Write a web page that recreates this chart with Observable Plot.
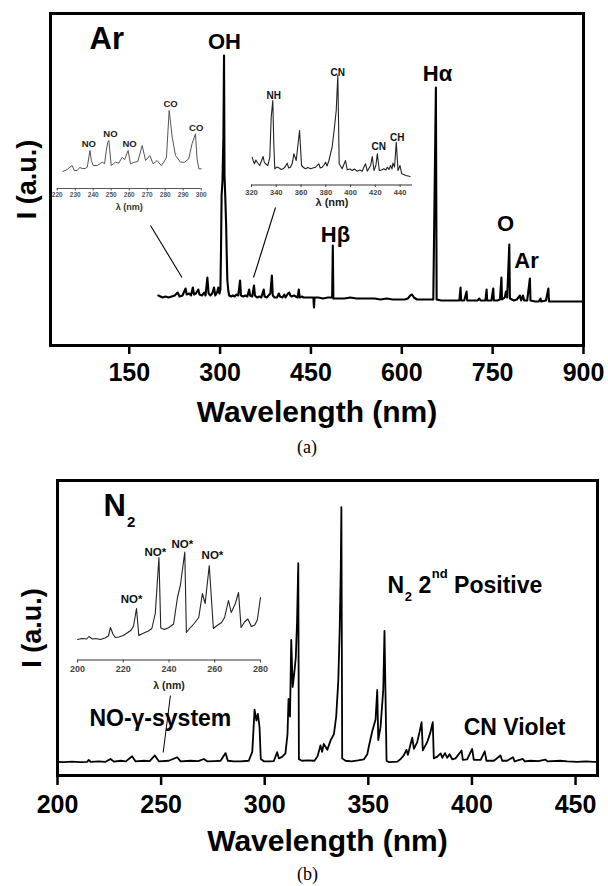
<!DOCTYPE html>
<html><head><meta charset="utf-8">
<script src="https://cdn.jsdelivr.net/npm/d3@7"></script>
<script src="https://cdn.jsdelivr.net/npm/@observablehq/plot@0.6"></script>
<style>
html,body{margin:0;padding:0;background:#fff;}
#root{position:relative;width:608px;height:886px;overflow:hidden;}
</style></head><body><div id="root"></div>
<script>
// ---------- tick values ----------
const ticksA = [150, 300, 450, 600, 750, 900];
const ticksB = [200, 250, 300, 350, 400, 450];
const ticksInsetAL = [220, 230, 240, 250, 260, 270, 280, 290, 300];
const ticksInsetAR = [320, 340, 360, 380, 400, 420, 440];
const ticksInsetB = [200, 220, 240, 260, 280];

// ---------- panel (a): Ar plasma, [wavelength nm, intensity a.u.] ----------
const specA = [[198,50],[205,48],[210,49],[215,48],[220,49],[225,50],[230,53],[233,49],[238,50],[243,57],[245,51],[249,52],[252,50],[255,58],[257,51],[260,52],[264,56],[266,51],[270,50],[274,53],[276,50],[279,68],[281,52],[284,50],[287,52],[290,58],[292,50],[295,53],[297,58],[299,52],[300.5,56],[301.5,95],[302.5,150],[304,165],[305.5,210],[306.5,290],[307.3,170],[308.5,150],[310,120],[311,90],[312,65],[313.5,55],[315,50],[318,49],[321,50],[324,49],[327,51],[330,50],[333,65],[334.5,50],[338,49],[342,50],[345,49],[348,56],[349.5,50],[353,49],[356,60],[357.5,50],[361,48],[365,49],[368,48],[372,56],[373.5,49],[377,48],[380,50],[383,52],[385.5,70],[387,50],[390,48],[394,48],[397,52],[399,49],[403,48],[406,51],[408,48],[412,52],[414,53],[416,50],[418,49],[422,50],[425,49],[428,48],[430,56],[431.5,48],[435,49],[438,48],[445,48],[450,48],[454,48],[455,38],[456,48],[462,48],[470,47],[478,48],[485,48],[486.1,100],[487,47],[495,47],[505,47],[515,48],[525,47],[535,47],[545,47],[555,47],[565,46],[575,47],[585,46],[595,46],[605,46],[610,47],[614,50],[617,51],[620,48],[625,46],[635,46],[645,46],[652,46],[656.3,258],[657.5,46],[665,45],[675,45],[685,45],[695,45],[697,58],[698,45],[703,45],[707,54],[708,45],[715,45],[725,45],[728,47],[730,45],[738,45],[740,56],[741,45],[748,45],[751,57],[752,45],[758,45],[762,46],[764.5,68],[765.5,46],[770,48],[772,54],[774,48],[777.5,101],[778.5,47],[785,45],[790,46],[795,50],[797,45],[800,50],[802,45],[807,45],[811.5,67],[812.5,45],[820,44],[826,44],[829,47],[830,44],[838,45],[842,57],[843,44],[850,44],[860,44],[870,44],[880,44],[890,44],[900,44]];

// inset (a) left: 220-300 nm
const insetAL = [[223.1,17],[225.5,19],[228.3,23],[229.5,18],[231.1,18],[232.5,21],[233.9,20],[235.5,20],[236.7,21.3],[238.2,38],[239,28],[240,23],[242.2,23],[244,25],[245,26.3],[246.3,24.7],[247.3,38],[248.1,46.3],[248.7,48],[250,23],[252.4,26.3],[254.2,25.3],[256.1,31.3],[257.4,28.7],[259.4,38],[260.7,24.7],[262.9,26.3],[264.8,27],[267.2,43],[269.1,28],[271.5,33],[273.3,24.7],[275.5,28],[277.8,23],[279.2,26.3],[280.7,31.3],[282.2,78],[283.9,51.3],[285.7,33],[288.5,26.3],[290.7,26.3],[293.1,29.7],[294.9,44.7],[296.8,54.7],[297.7,29.7],[298.7,19.7],[300,19.7]];

// inset (a) right: 320-450 nm
const insetAR = [[320.5,27.8],[321.5,24],[322.4,21.2],[323.5,25],[324.6,22.8],[325.6,21],[326.7,19.5],[328,24],[329.4,28.5],[330.3,23],[331.3,21.2],[333.2,19.5],[334.8,27.8],[335.9,67.8],[337.2,84.5],[338,41.5],[338.8,16.2],[340.5,18],[342,17.2],[344,15.5],[345.6,16.2],[347,18],[348.8,21.8],[350,17],[351.5,17.8],[353,22],[354.2,31.2],[356.1,24.5],[358.8,54.5],[360.4,19.5],[362,17.5],[363.6,16.2],[365.5,17.5],[367.7,16.2],[369.5,17],[371.7,17.8],[374.4,21.2],[375.5,17],[377.1,17.8],[378.5,20],[379.8,22.8],[381,19],[382.5,24.5],[385.1,37.8],[387,57.8],[388.4,74.5],[389.7,109.5],[390.8,21.2],[393.2,16.2],[395.9,24.5],[397.3,15.2],[399.5,16],[401.3,14.5],[403,16],[405.4,13.8],[407.5,15],[409.4,13.8],[410.8,18],[412.1,21.2],[413.5,13.8],[415,17],[416.2,19.5],[417.5,28.5],[418.9,14.5],[420.5,20],[421.6,31.2],[423.2,14.5],[425,15],[426.9,16.2],[428.5,15],[429.6,17.8],[431,15.5],[432.3,19.5],[433.5,16],[434.2,22],[435.5,18],[436.9,42.8],[438.3,14.5],[439.9,19.5],[441.3,11.2],[443,10.5],[444.5,9.5],[446.5,9],[448,8.5]];

// ---------- panel (b): N2 plasma ----------
const specB = [[200,4.6],[203,4.5],[207,4.7],[211,4.5],[214.3,4.6],[215.1,5.3],[216,4.6],[220,4.8],[223,4.6],[225.6,5.6],[227.2,4.7],[230.4,5.0],[233,4.8],[236,6.5],[237.6,4.8],[241.7,5.0],[244.5,4.9],[247,6.8],[248.9,4.8],[253.7,5.0],[257.8,6.2],[259.4,4.8],[264.2,5.0],[268,4.9],[270.6,5.6],[272.2,4.8],[276,4.9],[278.7,5.0],[281.1,7.6],[282.2,5.0],[285,4.8],[288.3,4.8],[292.3,5.0],[294,8],[295.1,22.3],[296,18.6],[296.7,20.9],[297.5,16.4],[298.1,5.6],[299.6,4.8],[302,4.8],[304.4,4.9],[306,7.9],[306.8,5.8],[308.4,6.3],[310,7.5],[311,14],[311.5,26],[312.2,20],[312.8,46],[313.5,30],[314.3,35],[315,40],[315.6,52],[316.2,72],[316.5,5.5],[318,5.0],[321,5.1],[324,5.0],[325.5,6.5],[326.9,10.2],[327.7,8],[328.5,10.7],[330.2,8.7],[331.8,11.9],[333.4,14],[334.5,20],[335.5,32],[336.2,50],[336.7,70],[337,91],[337.4,5.8],[339,5.0],[342,4.8],[345,5.1],[347.9,5.5],[349.5,7.2],[350.3,10],[351.9,15],[353.5,19],[354.3,29],[354.8,12],[355.9,16.5],[357.2,29],[357.8,49],[358.8,5.0],[360,4.5],[364,4.7],[365.5,5.5],[367.1,6.8],[368.4,8.7],[369.1,7],[370.4,10.7],[371.2,12.8],[372,9],[373.6,11.3],[374.9,15.3],[375.7,18.1],[376.3,8.5],[378.4,11.3],[380,14.7],[381.1,18.1],[381.6,5.8],[383.3,6.4],[384.9,7.5],[385.7,6],[387,7.6],[388.1,6],[389.2,7.2],[390.5,5.5],[392.1,5.8],[395,8.5],[395.6,5.3],[397.7,5.5],[400.1,9],[400.9,5.3],[404.2,5.3],[406.2,8.2],[407,5.0],[410.6,5.0],[413.8,6.8],[414.6,5.0],[417,5.0],[419.8,6.2],[420.6,4.8],[424.6,5.6],[425.5,4.8],[428.3,5.0],[432,4.9],[435.5,5.4],[436.5,4.8],[442.7,5.0],[446,4.8],[450.8,4.6],[455,4.8],[458.8,4.6],[460.6,4.6]];

// inset (b): 200-280 nm
const insetB = [[200,20.5],[202,21.5],[204,21],[205,23.5],[206.5,21],[208,21.5],[210,20.5],[212,22],[213.5,24],[214.4,32.5],[215.5,26],[216.5,22.5],[218,23],[220,24.5],[222,27.5],[223.5,30],[224.5,34],[225.8,51.5],[226.8,24.5],[228,26],[229.5,27.5],[231,29],[232.5,31.5],[234,46.5],[235.6,102.5],[236.4,32],[238,30.5],[240,32.5],[242,36],[243.7,62.5],[245,75],[246.9,108],[247.6,27.5],[249,31.5],[251,36.5],[253,42.5],[254.6,66.5],[255.8,56.5],[257.6,94.5],[259.4,31.5],[261,34.5],[263,37.5],[264.3,42.5],[266,59.5],[267.2,47.5],[269,56.5],[270.4,67.5],[271.5,32.5],[273,38],[274.5,41],[276,33.5],[277.5,35],[278.6,40],[279.6,56],[280,62.5]];

// ---------- annotations (data coordinates) ----------
const titleA = [{t:"Ar", x:84.4, y:297}];
const peakLabelsA = [{t:"OH", x:307.3, y:297},{t:"H\u03b1", x:659, y:265},{t:"H\u03b2", x:490.5, y:104},{t:"O", x:771.2, y:115},{t:"Ar", x:805.9, y:78}];
const leadersA = [{x1:185.1, y1:120, x2:237.1, y2:68},{x1:391.5, y1:138, x2:355.2, y2:68}];
const labelsAL = [{t:"NO", x:237.6, y:41.3},{t:"NO", x:249.6, y:51.3},{t:"NO", x:260.2, y:41.3},{t:"CO", x:283, y:81.3},{t:"CO", x:297.2, y:58}];
const labelsAR = [{t:"NH", x:338, y:86.2},{t:"CN", x:389.7, y:108.8},{t:"CN", x:422.8, y:35.5},{t:"CH", x:437.7, y:44.5}];

const titleB = [{t:"N", x:222.2, y:88.1}];
const titleBsub = [{t:"2", x:233.6, y:84.4}];
const bandLabelsB = [{t:"NO-\u03b3-system", x:215.4, y:16.9},{t:"CN Violet", x:396, y:13.6},{t:"N", x:359.3, y:61.7},{t:"2", x:374.2, y:61.7},{t:"Positive", x:391.4, y:61.7}];
const bandSubB = [{t:"2", x:367.6, y:59.3}];
const bandSupB = [{t:"nd", x:380.6, y:66.8}];
const leadersB = [{x1:254.5, y1:27.1, x2:251, y2:7.8}];
const labelsInsetB = [{t:"NO*", x:223.6, y:57.5},{t:"NO*", x:234, y:104.5},{t:"NO*", x:245.8, y:112},{t:"NO*", x:259, y:101.5}];

// ---------- rendering ----------
const SANS = '"Liberation Sans", Arial, Helvetica, sans-serif';
const SERIF = '"Liberation Serif", "Times New Roman", serif';
const root = document.getElementById("root");
function place(svg, left, top) {
  svg.style.position = "absolute";
  svg.style.left = left + "px";
  svg.style.top = top + "px";
  svg.style.background = "transparent";
  svg.style.overflow = "visible";
  svg.style.maxWidth = "none";
  root.appendChild(svg);
}
const baseStyle = {fontFamily: SANS, background: "transparent", overflow: "visible"};
const B = "bold";

// Panel (a)
const plotA = Plot.plot({
  width: 608, height: 470,
  marginLeft: 50, marginRight: 25, marginTop: 13, marginBottom: 125,
  x: {domain: [20, 900]},
  y: {domain: [0, 332], axis: null},
  style: baseStyle,
  marks: [
    Plot.line(specA, {strokeWidth: 2.1, stroke: "#000", strokeLinejoin: "round"}),
    Plot.link(leadersA, {x1: "x1", y1: "y1", x2: "x2", y2: "y2", strokeWidth: 1.1, stroke: "#000"}),
    Plot.text(titleA, {x: "x", y: "y", text: "t", textAnchor: "start", lineAnchor: "bottom", fontSize: 31, fontWeight: B}),
    Plot.text(peakLabelsA, {x: "x", y: "y", text: "t", textAnchor: "middle", lineAnchor: "bottom", fontSize: 22, fontWeight: B}),
    Plot.frame({strokeWidth: 3, stroke: "#000"}),
    Plot.axisX(ticksA, {tickSize: 9, tickPadding: 9, strokeWidth: 2.5, fontSize: 25, fontWeight: B, label: null}),
    Plot.text(["I (a.u.)"], {text: d => d, frameAnchor: "left", dx: -23, rotate: -90, textAnchor: "middle", lineAnchor: "middle", fontSize: 27, fontWeight: B}),
    Plot.text(["Wavelength (nm)"], {text: d => d, frameAnchor: "bottom", dy: 67, lineAnchor: "middle", fontSize: 30, fontWeight: B}),
    Plot.text(["(a)"], {text: d => d, frameAnchor: "bottom", dx: -10, dy: 102, lineAnchor: "middle", fontSize: 18, fontFamily: SERIF})
  ]
});
place(plotA, 0, 0);

// inset (a) left
const insAL = Plot.plot({
  width: 175, height: 120,
  marginLeft: 16.7, marginRight: 14.3, marginTop: 3, marginBottom: 27,
  x: {domain: [220, 300]},
  y: {domain: [0, 90], axis: null},
  style: baseStyle,
  marks: [
    Plot.ruleY([0], {stroke: "#555", strokeWidth: 1}),
    Plot.axisX(ticksInsetAL, {tickSize: 2.5, tickPadding: 1.5, fontSize: 6.5, fontWeight: B, color: "#555", label: null}),
    Plot.line(insetAL, {stroke: "#555", strokeWidth: 1}),
    Plot.text(labelsAL, {x: "x", y: "y", text: "t", lineAnchor: "bottom", fontSize: 9.5, fontWeight: B, fill: "#222"}),
    Plot.text(["\u03bb (nm)"], {text: d => d, frameAnchor: "bottom", dy: 19, lineAnchor: "middle", fontSize: 9, fontWeight: B, fill: "#333"})
  ]
});
place(insAL, 40, 95);

// inset (a) right
const insAR = Plot.plot({
  width: 185, height: 150,
  marginLeft: 11, marginRight: 13, marginTop: 4.5, marginBottom: 25.5,
  x: {domain: [320, 450]},
  y: {domain: [0, 120], axis: null},
  style: baseStyle,
  marks: [
    Plot.ruleY([0], {stroke: "#333", strokeWidth: 1}),
    Plot.axisX(ticksInsetAR, {tickSize: 2.5, tickPadding: 2, fontSize: 7.5, fontWeight: B, color: "#444", label: null}),
    Plot.line(insetAR, {stroke: "#222", strokeWidth: 1.1}),
    Plot.text(labelsAR, {x: "x", y: "y", text: "t", lineAnchor: "bottom", fontSize: 10, fontWeight: B, fill: "#111"}),
    Plot.text(["\u03bb (nm)"], {text: d => d, frameAnchor: "bottom", dy: 17.5, lineAnchor: "middle", fontSize: 11, fontWeight: B, fill: "#222"})
  ]
});
place(insAR, 240, 60);

// Panel (b)
const plotB = Plot.plot({
  width: 608, height: 416,
  marginLeft: 57, marginRight: 11, marginTop: 10, marginBottom: 111,
  x: {domain: [200, 460.6]},
  y: {domain: [0, 100], axis: null},
  style: baseStyle,
  marks: [
    Plot.line(specB, {strokeWidth: 1.8, stroke: "#000", strokeLinejoin: "round"}),
    Plot.link(leadersB, {x1: "x1", y1: "y1", x2: "x2", y2: "y2", strokeWidth: 1, stroke: "#000"}),
    Plot.text(titleB, {x: "x", y: "y", text: "t", textAnchor: "start", lineAnchor: "bottom", fontSize: 31, fontWeight: B}),
    Plot.text(titleBsub, {x: "x", y: "y", text: "t", textAnchor: "start", lineAnchor: "bottom", fontSize: 15, fontWeight: B}),
    Plot.text(bandLabelsB, {x: "x", y: "y", text: "t", textAnchor: "start", lineAnchor: "bottom", fontSize: 23, fontWeight: B}),
    Plot.text(bandSubB, {x: "x", y: "y", text: "t", textAnchor: "start", lineAnchor: "bottom", fontSize: 13, fontWeight: B}),
    Plot.text(bandSupB, {x: "x", y: "y", text: "t", textAnchor: "start", lineAnchor: "bottom", fontSize: 13, fontWeight: B}),
    Plot.frame({strokeWidth: 3, stroke: "#000"}),
    Plot.axisX(ticksB, {tickSize: 10, tickPadding: 10, strokeWidth: 2.5, fontSize: 25, fontWeight: B, label: null}),
    Plot.text(["I (a.u.)"], {text: d => d, frameAnchor: "left", dx: -25, rotate: -90, textAnchor: "middle", lineAnchor: "middle", fontSize: 27, fontWeight: B}),
    Plot.text(["Wavelength (nm)"], {text: d => d, frameAnchor: "bottom", dy: 66, lineAnchor: "middle", fontSize: 30, fontWeight: B}),
    Plot.text(["(b)"], {text: d => d, frameAnchor: "bottom", dx: -20, dy: 99, lineAnchor: "middle", fontSize: 18, fontFamily: SERIF})
  ]
});
place(plotB, 0, 470);

// inset (b)
const insB = Plot.plot({
  width: 210, height: 165,
  marginLeft: 12, marginRight: 15, marginTop: 4.5, marginBottom: 35.5,
  x: {domain: [200, 280]},
  y: {domain: [0, 125], axis: null},
  style: baseStyle,
  marks: [
    Plot.ruleY([0], {stroke: "#333", strokeWidth: 1.2}),
    Plot.axisX(ticksInsetB, {tickSize: 3, tickPadding: 3, fontSize: 9, fontWeight: B, color: "#444", label: null}),
    Plot.line(insetB, {stroke: "#222", strokeWidth: 1.1}),
    Plot.text(labelsInsetB, {x: "x", y: "y", text: "t", lineAnchor: "bottom", fontSize: 11.5, fontWeight: B, fill: "#111"}),
    Plot.text(["\u03bb (nm)"], {text: d => d, frameAnchor: "bottom", dy: 25.5, lineAnchor: "middle", fontSize: 10.5, fontWeight: B, fill: "#222"})
  ]
});
place(insB, 65, 530);
</script></body></html>
